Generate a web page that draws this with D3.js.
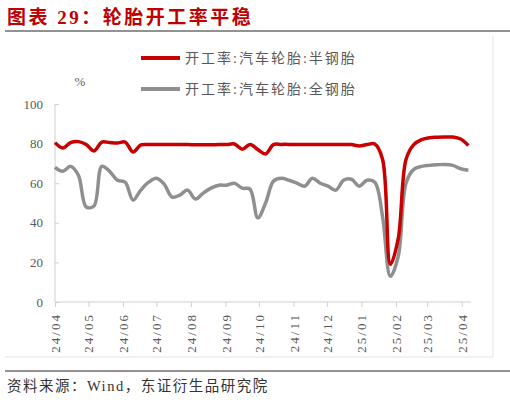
<!DOCTYPE html>
<html>
<head>
<meta charset="utf-8">
<script src="https://cdn.jsdelivr.net/npm/d3@7"></script>
<style>
  body { margin: 0; background: #fff; }
  text { font-family: "Liberation Serif", "Noto Sans CJK SC", serif; }
</style>
</head>
<body>
<div id="chart"></div>
<script>
// weekly data, first week of April 2024 to first half of April 2025
const startDate = '2024-04-04';
const semiSteel = [80.5, 77.8, 80.5, 81, 79.5, 76.3, 80.8, 80.5, 80.3, 80.8,
  75.8, 79.3, 79.5, 79.6, 79.6, 79.6, 79.5, 79.5, 79.4, 79.4,
  79.4, 79.5, 79.5, 79.8, 77.2, 79.5, 77, 74.8, 79.5, 79.6,
  79.6, 79.5, 79.5, 79.5, 79.5, 79.5, 79.5, 79.6, 79.5, 78.8,
  79.5, 79.8, 72, 19, 32, 72, 79.5, 82, 83, 83.2,
  83.3, 83.3, 82.3, 79];
const allSteel = [68, 66, 68.5, 64, 48, 48.5, 68.5, 66, 61.5, 60.5,
  51.5, 56.5, 60.5, 62.5, 59.5, 53, 54, 56.5, 52, 55,
  57.5, 59, 59, 60, 57.5, 57, 42.5, 50, 61, 62.5,
  61.5, 60, 58.5, 62.5, 60, 58.5, 56.5, 61.5, 62, 58.5,
  61.5, 60.5, 43, 13, 23, 60, 67, 68.5, 69, 69.3,
  69.5, 69, 67.3, 66.5];
const seriesNames = ['开工率:汽车轮胎:半钢胎', '开工率:汽车轮胎:全钢胎'];
const tickLabels = ['24/04', '24/05', '24/06', '24/07', '24/08', '24/09', '24/10',
  '24/11', '24/12', '25/01', '25/02', '25/03', '25/04'];
const yTicks = [0, 20, 40, 60, 80, 100];

const width = 510, height = 400;
const colors = ['#C80000', '#8F8F8F'];
const labelColor = '#595959';

let svg = d3.select('#chart')
  .append('svg')
    .attr('width', width)
    .attr('height', height);

// title
svg.append('text')
  .attr('x', 7)
  .attr('y', 24)
  .attr('fill', '#C00000')
  .style('font-size', '19px')
  .style('font-weight', 'bold')
  .style('letter-spacing', '2.5px')
  .text('图表 29：轮胎开工率平稳');
svg.append('line')
  .attr('x1', 5).attr('x2', 510)
  .attr('y1', 31).attr('y2', 31)
  .attr('stroke', '#6E6E6E')
  .attr('stroke-width', 1.5);

// chart frame (bottom + right edge)
svg.append('path')
  .attr('d', 'M5,357H493V36')
  .attr('fill', 'none')
  .attr('stroke', '#E3E3E3');

// source
svg.append('line')
  .attr('x1', 5).attr('x2', 510)
  .attr('y1', 371).attr('y2', 371)
  .attr('stroke', '#6E6E6E')
  .attr('stroke-width', 1.5);
svg.append('text')
  .attr('x', 7)
  .attr('y', 391)
  .attr('fill', '#333')
  .style('font-size', '14.5px')
  .style('letter-spacing', '1.5px')
  .text('资料来源：Wind，东证衍生品研究院');

// scales
let parse = d3.timeParse('%Y-%m-%d');
let t0 = parse(startDate);
let dates = semiSteel.map((d, i) => d3.timeDay.offset(t0, i * 7));

let x = d3.scaleTime()
  .domain([t0, dates[dates.length - 1]])
  .range([55, 468.4]);
let y = d3.scaleLinear()
  .domain([0, 100])
  .range([302, 104]);

// y axis
let yAxis = svg.append('g')
  .attr('class', 'axis axis-y')
  .attr('transform', 'translate(55,0)')
  .call(d3.axisRight(y).tickValues(yTicks).tickSize(4).tickFormat(d3.format('')));
yAxis.select('.domain').attr('stroke', '#D0D0D0').attr('d', 'M0,104V302');
yAxis.selectAll('line').attr('stroke', '#D0D0D0');
yAxis.selectAll('text')
  .attr('x', -12)
  .attr('text-anchor', 'end')
  .attr('fill', labelColor)
  .style('font-size', '13px');

svg.append('text')
  .attr('x', 80)
  .attr('y', 86)
  .attr('text-anchor', 'middle')
  .attr('fill', labelColor)
  .style('font-size', '13px')
  .text('%');

// x axis
let tickDates = tickLabels.map((d, i) => d3.timeMonth.offset(t0, i));
let xAxis = svg.append('g')
  .attr('class', 'axis axis-x')
  .attr('transform', 'translate(0,302)')
  .call(d3.axisBottom(x)
    .tickValues(tickDates)
    .tickSize(5)
    .tickFormat((d, i) => tickLabels[i]));
xAxis.select('.domain').attr('stroke', '#D0D0D0').attr('d', 'M55,0H471');
xAxis.selectAll('line').attr('stroke', '#D0D0D0');
xAxis.selectAll('text')
  .attr('text-anchor', 'end')
  .attr('fill', labelColor)
  .attr('transform', 'rotate(-90)')
  .attr('x', -11)
  .attr('y', 0)
  .attr('dy', '0.35em')
  .style('font-size', '13px')
  .style('letter-spacing', '2px');

// lines
let line = d3.line()
  .x((d, i) => x(dates[i]))
  .y(d => y(d))
  .curve(d3.curveCatmullRom.alpha(0.5));

svg.append('path')
  .datum(allSteel)
  .attr('class', 'line line-all')
  .attr('fill', 'none')
  .attr('stroke', colors[1])
  .attr('stroke-width', 3.5)
  .attr('stroke-linejoin', 'round')
  .attr('d', line);
svg.append('path')
  .datum(semiSteel)
  .attr('class', 'line line-semi')
  .attr('fill', 'none')
  .attr('stroke', colors[0])
  .attr('stroke-width', 3.5)
  .attr('stroke-linejoin', 'round')
  .attr('d', line);

// legend
let legend = svg.append('g').attr('class', 'legend');
seriesNames.forEach((name, i) => {
  let ly = 58 + i * 31;
  legend.append('line')
    .attr('x1', 141).attr('x2', 180)
    .attr('y1', ly).attr('y2', ly)
    .attr('stroke', colors[i])
    .attr('stroke-width', 4);
  legend.append('text')
    .attr('x', 185)
    .attr('y', ly)
    .attr('dy', '0.36em')
    .attr('fill', labelColor)
    .style('font-size', '14px')
    .style('letter-spacing', '2px')
    .text(name);
});
</script>
</body>
</html>
